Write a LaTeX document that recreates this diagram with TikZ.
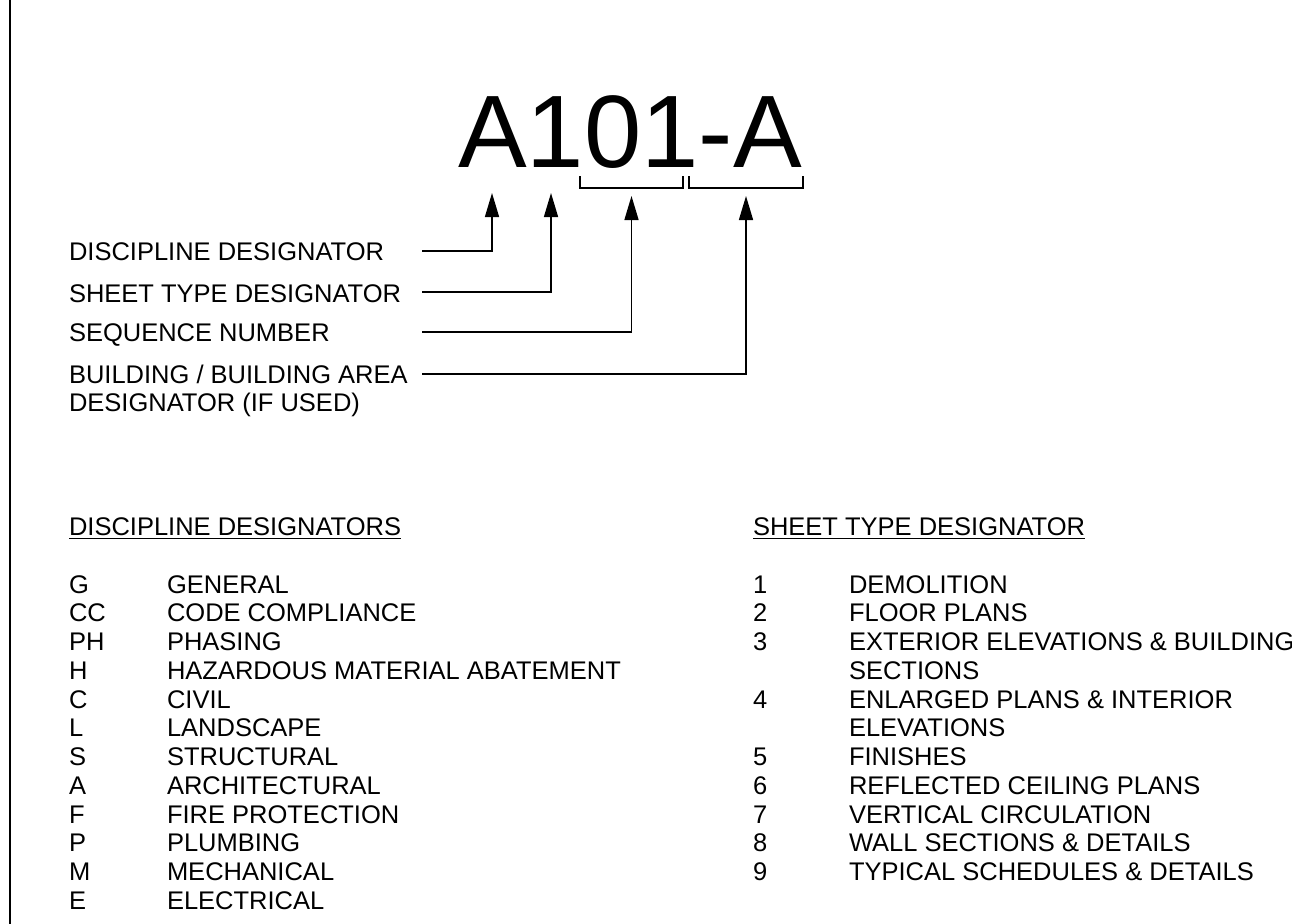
\documentclass[tikz,border=0pt]{standalone}
\usepackage{fontspec}
\setmainfont{Liberation Sans}
\usetikzlibrary{arrows.meta}
\tikzset{
  txt/.style={anchor=base west,inner sep=0pt,outer sep=0pt,font=\fontsize{25.5}{28.75}\selectfont},
  big/.style={anchor=base,inner sep=0pt,outer sep=0pt,font=\fontsize{103}{110}\selectfont},
  leader/.style={line width=1.5pt,-{Triangle[width=14pt,length=24pt]}},
  bracket/.style={line width=2pt},
  uline/.style={line width=1.6pt}
}
\begin{document}
\begin{tikzpicture}[x=1pt,y=-1pt]
\useasboundingbox (0,0) rectangle (1292,923);
\draw[line width=2.6pt] (10,-2) -- (10,925);
% big designation
\node[big] (code) at (630,167) {A101-A};
% brackets
\draw[bracket] (580,176) -- (580,188) -- (683,188) -- (683,176);
\draw[bracket] (689,176) -- (689,188) -- (803,188) -- (803,176);
% arrow tips
\coordinate (t1) at (492,193);
\coordinate (t2) at (551,193);
\coordinate (t3) at (631.5,196);
\coordinate (t4) at (746,196);
% labels
\node[txt] (l1) at (69,260) {DISCIPLINE DESIGNATOR};
\node[txt] (l2) at (69,302) {SHEET TYPE DESIGNATOR};
\node[txt] (l3) at (69,341) {SEQUENCE NUMBER};
\node[txt] (l4) at (69,383) {BUILDING / BUILDING AREA};
\node[txt] (l5) at (69,411.75) {DESIGNATOR (IF USED)};
\coordinate (s1) at (422,251);
\coordinate (s2) at (422,292);
\coordinate (s3) at (422,332);
\coordinate (s4) at (422,374);
\draw[leader] (s1) -| (t1);
\draw[leader] (s2) -| (t2);
\draw[leader] (s3) -| (t3);
\draw[leader] (s4) -| (t4);
% list titles
\node[txt] (h1) at (69,535) {DISCIPLINE DESIGNATORS};
\node[txt] (h2) at (753,535) {SHEET TYPE DESIGNATOR};
\draw[uline] ([yshift=-3.5pt]h1.base west) -- ([yshift=-3.5pt]h1.base east);
\draw[uline] ([yshift=-3.5pt]h2.base west) -- ([yshift=-3.5pt]h2.base east);
% discipline list
\foreach \c/\t [count=\i] in {G/GENERAL,CC/CODE COMPLIANCE,PH/PHASING,H/HAZARDOUS MATERIAL ABATEMENT,C/CIVIL,L/LANDSCAPE,S/STRUCTURAL,A/ARCHITECTURAL,F/FIRE PROTECTION,P/PLUMBING,M/MECHANICAL,E/ELECTRICAL}{
  \node[txt] (dc\i) at (69,{593+(\i-1)*28.75}) {\c};
  \node[txt] (dt\i) at (167,{593+(\i-1)*28.75}) {\t};
}
% sheet type list
\foreach \c/\t [count=\i] in {1/DEMOLITION,2/FLOOR PLANS,3/EXTERIOR ELEVATIONS \& BUILDING,{}/SECTIONS,4/ENLARGED PLANS \& INTERIOR,{}/ELEVATIONS,5/FINISHES,6/REFLECTED CEILING PLANS,7/VERTICAL CIRCULATION,8/WALL SECTIONS \& DETAILS,9/TYPICAL SCHEDULES \& DETAILS}{
  \node[txt] (sc\i) at (753,{593+(\i-1)*28.75}) {\c};
  \node[txt] (st\i) at (849,{593+(\i-1)*28.75}) {\t};
}
\end{tikzpicture}
\end{document}
